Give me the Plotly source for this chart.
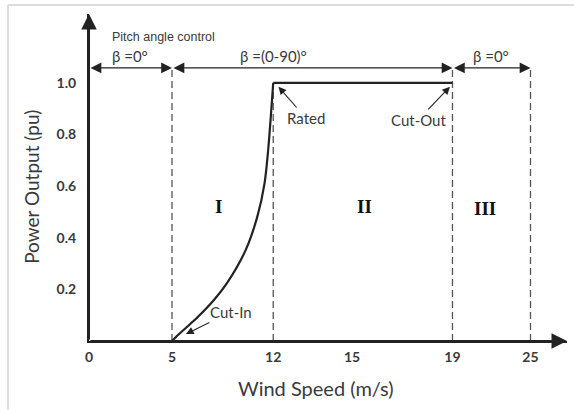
import numpy as np
import plotly.graph_objects as go

# Tick speeds on the schematic (non-uniform) wind-speed axis
tick_speeds = [0, 5, 12, 15, 19, 25]
tick_labels = ["0", "5", "12", "15", "19", "25"]

# Power curve between cut-in and rated speed
curve_speed = [5.0, 5.3, 6.8, 7.9, 8.8, 10.1, 10.9, 11.4, 11.65, 12.0]
curve_power = [0.0, 0.017, 0.094, 0.159, 0.224, 0.353, 0.482, 0.611, 0.74, 1.0]

# Rated plateau
rated_speed = [12, 19]
rated_power = [1.0, 1.0]

# Region boundaries (cut-in, rated, cut-out, shutdown)
boundary_speeds = [5, 12, 19, 25]
boundary_tops = [1.058, 1.0, 1.058, 1.058]

# Pitch-angle regimes along the top
pitch_spans = [(0, 5), (5, 19), (19, 25)]
pitch_labels = ["β =0°", "β =(0-90)°", "β =0°"]

region_labels = ["I", "II", "III"]
region_speeds = [8.25, 15.5, 21.5]
region_power = [0.523, 0.523, 0.512]

# Layout of the broken axis: where each tick speed sits along the axis
axis_slots = [0, 5, 11.1, 15.85, 21.9, 26.6]
X_END = 28.8
Y_END = 1.267
ARROW_ROW = 1.058


def slot(v):
    return np.interp(v, tick_speeds, axis_slots)


INK = "#222222"
TXT = "#3a3a3a"
SANS = "Lato, 'Open Sans', sans-serif"

fig = go.Figure()

# Dashed region boundaries
for s, top in zip(boundary_speeds, boundary_tops):
    fig.add_trace(go.Scatter(
        x=slot([s, s]), y=[0, top], mode="lines",
        line=dict(color="#555555", width=1.3, dash="7px,4px"),
        hoverinfo="skip", showlegend=False))

# Power curve and rated plateau
fig.add_trace(go.Scatter(
    x=slot(curve_speed), y=curve_power, mode="lines",
    line=dict(color=INK, width=2.2, shape="spline", smoothing=0.8),
    showlegend=False))
fig.add_trace(go.Scatter(
    x=slot(rated_speed), y=rated_power, mode="lines",
    line=dict(color=INK, width=2.4), showlegend=False))

annotations = []

# Axis arrowheads
for tip_x, tip_y in [(0, Y_END), (X_END, 0)]:
    annotations.append(dict(
        x=tip_x, y=tip_y, ax=0, ay=0, xref="x", yref="y",
        axref="x", ayref="y", text="", showarrow=True, arrowhead=2,
        arrowsize=1.55, arrowwidth=2, arrowcolor=INK, standoff=0))

# Double-headed pitch-angle arrows with labels
for (a, b), lab in zip(pitch_spans, pitch_labels):
    annotations.append(dict(
        x=slot(b), y=ARROW_ROW, ax=slot(a), ay=ARROW_ROW,
        xref="x", yref="y", axref="x", ayref="y", text="",
        showarrow=True, arrowside="end+start", arrowhead=2, startarrowhead=2,
        arrowsize=1.8, startarrowsize=1.8, arrowwidth=1.2, arrowcolor=INK,
        standoff=0, startstandoff=0))
    annotations.append(dict(
        x=slot((a + b) / 2), y=1.105, xref="x", yref="y", text=lab,
        showarrow=False, font=dict(family=SANS, size=15, color=TXT)))

annotations.append(dict(
    x=slot(1.27), y=1.178, xref="x", yref="y", xanchor="left",
    text="Pitch angle control", showarrow=False,
    font=dict(family="Liberation Sans, Arial", size=12.5, color=TXT)))

# Pointer labels
pointers = [
    ("Rated", 12.2, 0.985, 13.24, 0.864),
    ("Cut-Out", 18.9, 0.985, 17.63, 0.857),
    ("Cut-In", 5.96, 0.027, 9.07, 0.112),
]
for text, tx, ty, lx, ly in pointers:
    annotations.append(dict(
        x=slot(tx), y=ty, ax=slot(lx), ay=ly,
        xref="x", yref="y", axref="x", ayref="y", text=text,
        showarrow=True, arrowhead=2, arrowsize=1.4, arrowwidth=1.1,
        arrowcolor=INK, standoff=0,
        font=dict(family=SANS, size=15, color=TXT)))

# Region numerals
for lab, s, p in zip(region_labels, region_speeds, region_power):
    annotations.append(dict(
        x=slot(s), y=p, xref="x", yref="y", text=lab, showarrow=False,
        font=dict(family="Liberation Serif, Times New Roman, serif",
                  size=19, color="#111111", weight="bold")))

# Axis titles
annotations.append(dict(
    x=-0.121, y=0.472, xref="paper", yref="paper", text="Power Output (pu)",
    xanchor="center", yanchor="middle", textangle=-90, showarrow=False,
    font=dict(family=SANS, size=19, color=TXT)))
annotations.append(dict(
    x=0.475, y=-0.144, xref="paper", yref="paper", text="Wind Speed (m/s)",
    xanchor="center", yanchor="middle", showarrow=False,
    font=dict(family=SANS, size=20, color=TXT)))

# Light frame on top and left
shapes = [
    dict(type="line", xref="paper", yref="paper", x0=-0.1695, x1=1.02,
         y0=1.0275, y1=1.0275, line=dict(color="#dcdcdc", width=2)),
    dict(type="line", xref="paper", yref="paper", x0=-0.1695, x1=-0.1695,
         y0=-0.25, y1=1.0275, line=dict(color="#dcdcdc", width=2)),
]

fig.update_layout(
    width=574, height=410,
    margin=dict(l=89, r=7, t=14, b=69),
    paper_bgcolor="white", plot_bgcolor="white",
    annotations=annotations, shapes=shapes,
    xaxis=dict(range=[0, X_END], tickvals=list(slot(tick_speeds)),
               ticktext=tick_labels, showgrid=False, zeroline=False,
               showline=True, linecolor=INK, linewidth=2, ticks="",
               ticklabelstandoff=2,
               tickfont=dict(family=SANS, size=14, color=TXT, weight="bold")),
    yaxis=dict(range=[0, Y_END], tickvals=[0.2, 0.4, 0.6, 0.8, 1.0],
               ticktext=["0.2", "0.4", "0.6", "0.8", "1.0"],
               showgrid=False, zeroline=False, showline=True,
               linecolor=INK, linewidth=2, ticks="", ticklabelstandoff=8,
               tickfont=dict(family=SANS, size=14, color=TXT, weight="bold")),
)

fig.write_html("out.html")
